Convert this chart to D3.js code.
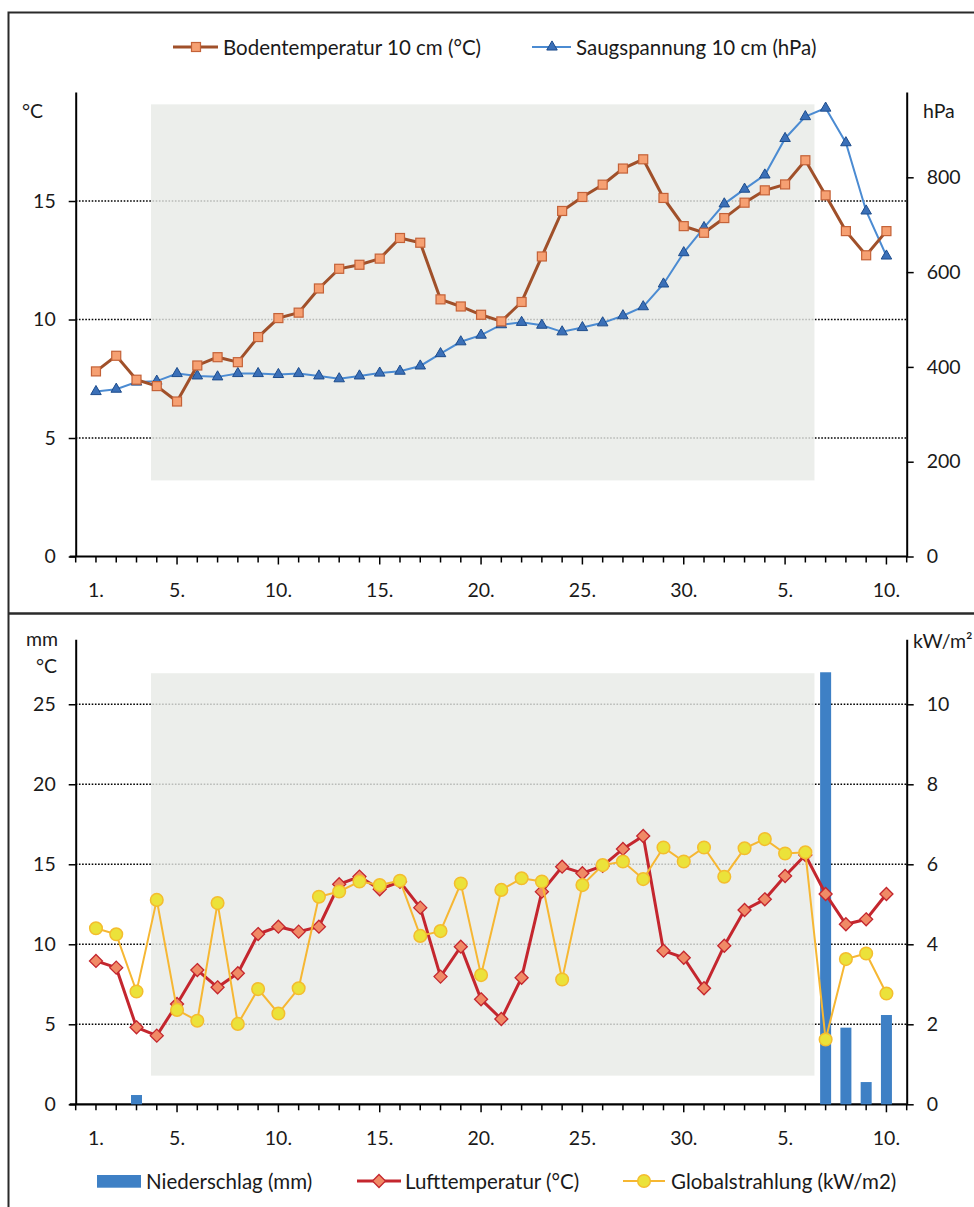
<!DOCTYPE html>
<html><head><meta charset="utf-8">
<script src="https://cdn.jsdelivr.net/npm/d3@7/dist/d3.min.js"></script>
<style>
html,body{margin:0;padding:0;background:#fff;}
svg{display:block;font-family:Lato,"Open Sans",sans-serif;}
</style></head>
<body>
<svg id="chart" width="974" height="1207"></svg>
<script>
// ---------- data ----------
const days = [1,2,3,4,5,6,7,8,9,10,11,12,13,14,15,16,17,18,19,20,21,22,23,24,25,26,27,28,29,30,1,2,3,4,5,6,7,8,9,10];
const xTickLabels = ["1.","5.","10.","15.","20.","25.","30.","5.","10."];
const xTickIndex  = [0,4,9,14,19,24,29,34,39];

const bodentemperatur = [7.81,8.47,7.46,7.19,6.54,8.06,8.41,8.20,9.26,10.06,10.29,11.31,12.14,12.31,12.57,13.44,13.24,10.85,10.55,10.20,9.92,10.74,12.66,14.58,15.17,15.69,16.37,16.76,15.13,13.94,13.66,14.28,14.93,15.45,15.70,16.72,15.24,13.73,12.71,13.73];
const saugspannung = [348,353,368,370,386,381,379,386,386,384,386,381,375,381,387,391,402,428,453,467,489,494,488,474,483,493,508,527,575,641,694,744,775,805,882,928,946,873,729,634];

const niederschlag = [0,0,0.58,0,0,0,0,0,0,0,0,0,0,0,0,0,0,0,0,0,0,0,0,0,0,0,0,0,0,0,0,0,0,0,0,0,27.0,4.79,1.39,5.58];
const lufttemperatur = [8.96,8.54,4.81,4.29,6.27,8.39,7.31,8.19,10.64,11.1,10.79,11.1,13.75,14.23,13.44,13.91,12.29,7.98,9.85,6.56,5.33,7.91,13.29,14.85,14.44,14.9,15.96,16.77,9.6,9.16,7.25,9.91,12.14,12.81,14.27,15.58,13.14,11.25,11.56,13.14];
const globalstrahlung = [4.40,4.25,2.82,5.11,2.36,2.09,5.03,2.01,2.88,2.27,2.9,5.19,5.32,5.57,5.48,5.59,4.21,4.33,5.52,3.23,5.36,5.65,5.57,3.12,5.48,5.98,6.07,5.63,6.42,6.07,6.42,5.69,6.4,6.63,6.27,6.3,1.62,3.63,3.77,2.77];

const topLeftTicks = [0,5,10,15];
const topRightTicks = [0,200,400,600,800];
const botLeftTicks = [0,5,10,15,20,25];
const botRightTicks = [0,2,4,6,8,10];

const legendTop = ["Bodentemperatur 10 cm (°C)","Saugspannung 10 cm (hPa)"];
const legendBot = ["Niederschlag (mm)","Lufttemperatur (°C)","Globalstrahlung (kW/m2)"];

// highlighted period (in index / value units)
const bandX = [2.715, 35.45];
const bandTopY = [3.21, 19.08];
const bandBotY = [1.79, 26.94];

// ---------- styles ----------
const C = {
  text:"#1a1a1a", axis:"#000",
  brown:"#a0502a", sqFill:"#f6a072", sqStroke:"#c46238",
  blue:"#4b8bd2", triFill:"#3b70b8", triStroke:"#1d4c8c",
  red:"#c4262e", diaFill:"#f08a66",
  yellow:"#f6b733", cirFill:"#ebe23a", cirStroke:"#f4bd2e",
  bar:"#3e80c5", band:"#e7eae6"
};

const svg = d3.select("#chart");
svg.append("rect").attr("width",974).attr("height",1207).attr("fill","#fff");

// frame
svg.append("path").attr("d","M974,12.5H8.5V1207").attr("fill","none").attr("stroke","#2a2a2a").attr("stroke-width",2);
svg.append("path").attr("d","M8.5,613.5H974").attr("fill","none").attr("stroke","#2a2a2a").attr("stroke-width",2.5);

const x = d3.scaleLinear().domain([-1,40]).range([75.7,906.7]);
const AXL = 75.7, AXR = 906.7;

function panel(cfg){
  const g = svg.append("g");
  const yL = d3.scaleLinear().domain([0,cfg.maxL]).range([cfg.y0,cfg.y1]);
  const yR = d3.scaleLinear().domain([0,cfg.maxR]).range([cfg.y0,cfg.y1]);
  // gridlines
  g.selectAll("line.grid").data(cfg.leftTicks.filter(d=>d>0)).enter().append("line")
    .attr("x1",AXL).attr("x2",AXR).attr("y1",d=>yL(d)).attr("y2",d=>yL(d))
    .attr("stroke","#000").attr("stroke-width",1.4).attr("stroke-dasharray","1.6,1.6");
  // band
  g.append("rect").attr("x",x(bandX[0])).attr("width",x(bandX[1])-x(bandX[0]))
    .attr("y",yL(cfg.band[1])).attr("height",yL(cfg.band[0])-yL(cfg.band[1]))
    .attr("fill",C.band).attr("opacity",0.8);
  // left axis
  const la = g.append("g").attr("transform",`translate(${AXL},0)`)
    .call(d3.axisLeft(yL).tickValues(cfg.leftTicks).tickSize(7).tickPadding(13).tickSizeOuter(0));
  // right axis
  const ra = g.append("g").attr("transform",`translate(${AXR},0)`)
    .call(d3.axisRight(yR).tickValues(cfg.rightTicks).tickSize(7).tickPadding(13).tickSizeOuter(0));
  [la,ra].forEach(a=>{
    a.select(".domain").attr("stroke",C.axis).attr("stroke-width",2);
    a.selectAll(".tick line").attr("stroke",C.axis).attr("stroke-width",1.5);
    a.selectAll(".tick text").attr("fill",C.text).attr("font-size",19.5).attr("font-family","Lato");
  });
  // x axis
  const xa = g.append("g").attr("transform",`translate(0,${cfg.y0})`);
  xa.append("line").attr("x1",AXL-6).attr("x2",AXR).attr("y1",0).attr("y2",0).attr("stroke",C.axis).attr("stroke-width",2.2);
  const tickPos = d3.range(-1,41);
  xa.selectAll("line.t").data(tickPos).enter().append("line")
    .attr("x1",d=>x(d)).attr("x2",d=>x(d)).attr("y1",0)
    .attr("y2",d=>xTickIndex.includes(d)&&d>0?8:6)
    .attr("stroke",C.axis).attr("stroke-width",1.5);
  xa.selectAll("text").data(xTickIndex).enter().append("text")
    .attr("x",d=>x(d)).attr("y",33).attr("text-anchor","middle").attr("dominant-baseline","central")
    .attr("font-size",19.5).attr("fill",C.text).text((d,i)=>xTickLabels[i]);
  return {g,yL,yR};
}

// ---------- top panel ----------
const P1 = panel({y0:556.5,y1:92,maxL:19.6,maxR:980,leftTicks:topLeftTicks,rightTicks:topRightTicks,band:bandTopY});
{
  const g = P1.g;
  const lb = d3.line().x((d,i)=>x(i)).y(d=>P1.yL(d));
  const ls = d3.line().x((d,i)=>x(i)).y(d=>P1.yR(d));
  g.append("path").attr("d",ls(saugspannung)).attr("fill","none").attr("stroke",C.blue).attr("stroke-width",2);
  g.append("path").attr("d",lb(bodentemperatur)).attr("fill","none").attr("stroke",C.brown).attr("stroke-width",3);
  const tri = d3.symbol().type(d3.symbolTriangle).size(48);
  g.selectAll("path.tri").data(saugspannung).enter().append("path")
    .attr("d",tri).attr("transform",(d,i)=>`translate(${x(i)},${P1.yR(d)})`)
    .attr("fill",C.triFill).attr("stroke",C.triStroke).attr("stroke-width",1);
  g.selectAll("rect.sq").data(bodentemperatur).enter().append("rect")
    .attr("x",(d,i)=>x(i)-4.5).attr("y",d=>P1.yL(d)-4.5).attr("width",9).attr("height",9)
    .attr("fill",C.sqFill).attr("stroke",C.sqStroke).attr("stroke-width",1.2);
  // unit labels
  svg.append("text").attr("x",22).attr("y",110).attr("dominant-baseline","central").attr("font-size",19.5).attr("fill",C.text).text("°C");
  svg.append("text").attr("x",923).attr("y",110).attr("dominant-baseline","central").attr("font-size",19.5).attr("fill",C.text).text("hPa");
  // legend
  const lg = svg.append("g");
  lg.append("line").attr("x1",173).attr("x2",218).attr("y1",47).attr("y2",47).attr("stroke",C.brown).attr("stroke-width",3);
  lg.append("rect").attr("x",191.5).attr("y",42.5).attr("width",9).attr("height",9).attr("fill",C.sqFill).attr("stroke",C.sqStroke).attr("stroke-width",1.2);
  lg.append("text").attr("x",223).attr("y",47).attr("dominant-baseline","central").attr("font-size",20.5).attr("fill",C.text).text(legendTop[0]);
  lg.append("line").attr("x1",532).attr("x2",571).attr("y1",47).attr("y2",47).attr("stroke",C.blue).attr("stroke-width",2);
  lg.append("path").attr("d",d3.symbol().type(d3.symbolTriangle).size(48)).attr("transform","translate(552,47)")
    .attr("fill",C.triFill).attr("stroke",C.triStroke).attr("stroke-width",1);
  lg.append("text").attr("x",576).attr("y",47).attr("dominant-baseline","central").attr("font-size",20.5).attr("fill",C.text).text(legendTop[1]);
}

// ---------- bottom panel ----------
const P2 = panel({y0:1104.3,y1:639.3,maxL:29.06,maxR:11.625,leftTicks:botLeftTicks,rightTicks:botRightTicks,band:bandBotY});
{
  const g = P2.g;
  g.selectAll("rect.bar").data(niederschlag).enter().append("rect")
    .attr("x",(d,i)=>x(i)-5.5).attr("width",11)
    .attr("y",d=>P2.yL(d)).attr("height",d=>P2.yL(0)-P2.yL(d))
    .attr("fill",C.bar);
  const lt = d3.line().x((d,i)=>x(i)).y(d=>P2.yL(d));
  const lgS = d3.line().x((d,i)=>x(i)).y(d=>P2.yR(d));
  g.append("path").attr("d",lt(lufttemperatur)).attr("fill","none").attr("stroke",C.red).attr("stroke-width",3);
  g.selectAll("path.dia").data(lufttemperatur).enter().append("path")
    .attr("d","M0,-6.5L6.5,0L0,6.5L-6.5,0Z").attr("transform",(d,i)=>`translate(${x(i)},${P2.yL(d)})`)
    .attr("fill",C.diaFill).attr("stroke",C.red).attr("stroke-width",1.3);
  g.append("path").attr("d",lgS(globalstrahlung)).attr("fill","none").attr("stroke",C.yellow).attr("stroke-width",2);
  g.selectAll("circle.c").data(globalstrahlung).enter().append("circle")
    .attr("cx",(d,i)=>x(i)).attr("cy",d=>P2.yR(d)).attr("r",6.3)
    .attr("fill",C.cirFill).attr("stroke",C.cirStroke).attr("stroke-width",1.5);
  svg.append("text").attr("x",26).attr("y",638).attr("dominant-baseline","central").attr("font-size",19.5).attr("fill",C.text).text("mm");
  svg.append("text").attr("x",36).attr("y",665).attr("dominant-baseline","central").attr("font-size",19.5).attr("fill",C.text).text("°C");
  svg.append("text").attr("x",913).attr("y",640).attr("dominant-baseline","central").attr("font-size",19.5).attr("fill",C.text).text("kW/m²");
  // legend
  const lg = svg.append("g");
  lg.append("rect").attr("x",97).attr("y",1175).attr("width",44).attr("height",12.7).attr("fill",C.bar);
  lg.append("text").attr("x",146).attr("y",1181).attr("dominant-baseline","central").attr("font-size",20.5).attr("fill",C.text).text(legendBot[0]);
  lg.append("line").attr("x1",357).attr("x2",401).attr("y1",1181).attr("y2",1181).attr("stroke",C.red).attr("stroke-width",3);
  lg.append("path").attr("d","M0,-6.5L6.5,0L0,6.5L-6.5,0Z").attr("transform","translate(379,1181)").attr("fill",C.diaFill).attr("stroke",C.red).attr("stroke-width",1.3);
  lg.append("text").attr("x",405).attr("y",1181).attr("dominant-baseline","central").attr("font-size",20.5).attr("fill",C.text).text(legendBot[1]);
  lg.append("line").attr("x1",623).attr("x2",665).attr("y1",1181).attr("y2",1181).attr("stroke",C.yellow).attr("stroke-width",2);
  lg.append("circle").attr("cx",644).attr("cy",1181).attr("r",6.3).attr("fill",C.cirFill).attr("stroke",C.cirStroke).attr("stroke-width",1.5);
  lg.append("text").attr("x",671).attr("y",1181).attr("dominant-baseline","central").attr("font-size",20.5).attr("fill",C.text).text(legendBot[2]);
}
</script>
</body></html>
